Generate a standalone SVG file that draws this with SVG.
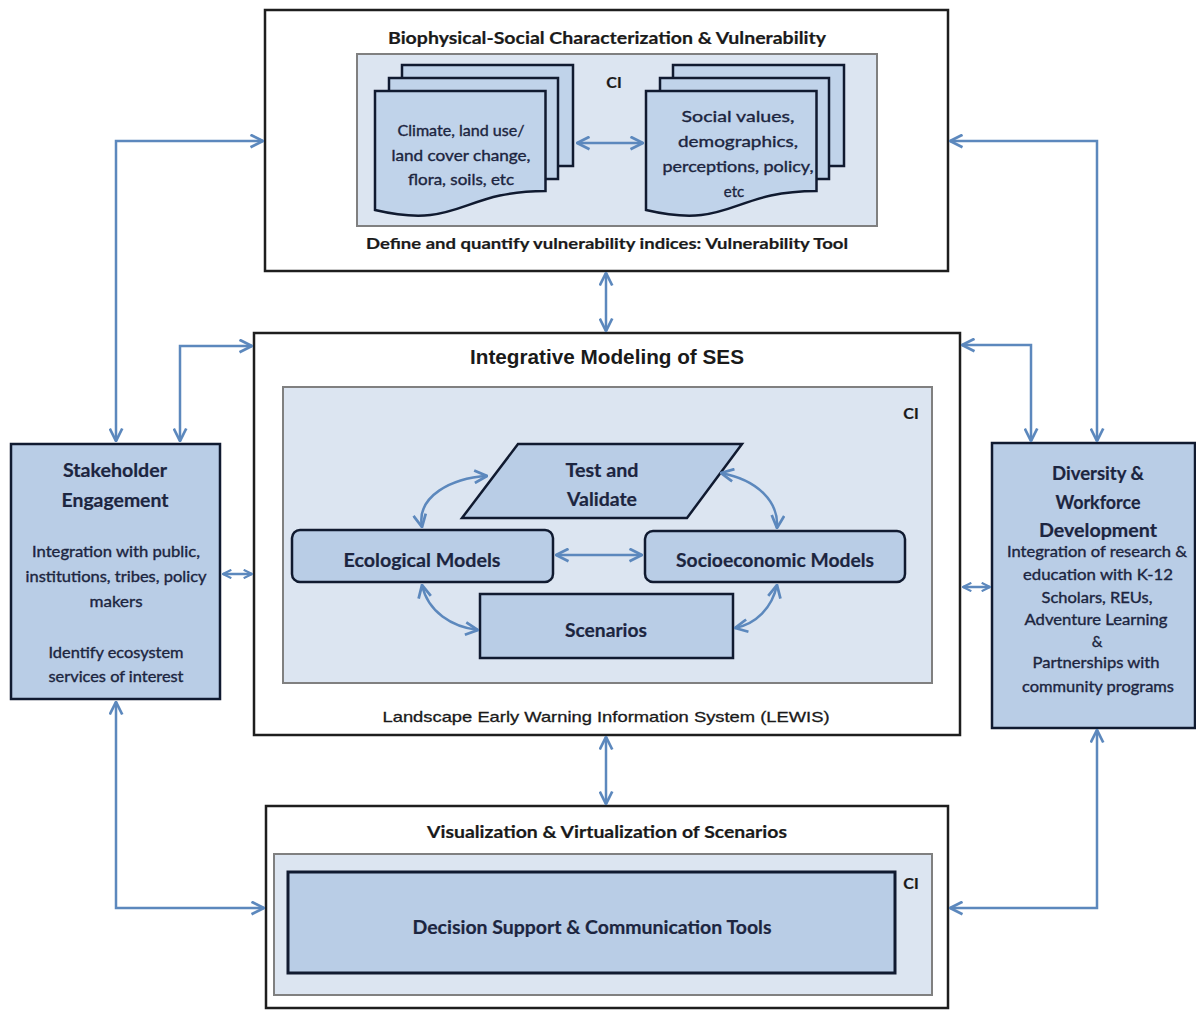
<svg xmlns="http://www.w3.org/2000/svg" width="1196" height="1010" viewBox="0 0 1196 1010">
<style>
.outer{fill:#ffffff;stroke:#1e1e1e;stroke-width:2.5}
.cont{fill:#dce5f1;stroke:#808080;stroke-width:2}
.node{fill:#b9cde6;stroke:#101a30;stroke-width:2.5}
.doc{fill:#c0d3ea;stroke:#101a30;stroke-width:2.5}
.t{font-family:Lato,"Open Sans","Liberation Sans",sans-serif;fill:#1c2540;text-anchor:middle;stroke:#1c2540;stroke-width:0.35}
.b{font-weight:bold;stroke-width:0.2}
.a{font-family:"Liberation Sans",Arial,sans-serif;fill:#1a1a1a;text-anchor:middle}
.k{fill:#1a1a1a;stroke:#1a1a1a}
.c{fill:none;stroke:#5c88bd;stroke-width:2.5}
.cs{fill:none;stroke:#5c88bd;stroke-width:2.5}
</style>
<defs>
<marker id="ah" viewBox="0 0 12 12" refX="11" refY="6" markerWidth="15" markerHeight="15" markerUnits="userSpaceOnUse" orient="auto-start-reverse">
<path d="M1,1 L11,6 L1,11" fill="none" stroke="#5c88bd" stroke-width="2.2"/>
</marker>
<marker id="ahs" viewBox="0 0 12 12" refX="11" refY="6" markerWidth="10" markerHeight="10" markerUnits="userSpaceOnUse" orient="auto-start-reverse">
<path d="M1,1 L11,6 L1,11" fill="none" stroke="#5c88bd" stroke-width="2.6"/>
</marker>
</defs>

<g id="top-box">
<rect class="outer" x="265" y="10" width="683" height="261"/>
<text class="t b k" x="607" y="44" font-size="17" textLength="438" lengthAdjust="spacingAndGlyphs">Biophysical-Social Characterization &amp; Vulnerability</text>
<rect class="cont" x="357" y="54" width="520" height="172"/>
<text class="t b k" x="614" y="88" font-size="16">CI</text>
<text class="t b k" x="607" y="249" font-size="16" textLength="482" lengthAdjust="spacingAndGlyphs">Define and quantify vulnerability indices: Vulnerability Tool</text>
</g>

<g id="biophysical-docs">
<rect class="doc" x="402" y="65" width="171" height="101"/>
<rect class="doc" x="389" y="78" width="169" height="101"/>
<path class="doc" d="M375,210 C460,230 460,191 545.5,191 L545.5,91 L375,91 Z"/>
<text class="t" x="461" y="136" font-size="15" textLength="127" lengthAdjust="spacingAndGlyphs">Climate, land use/</text>
<text class="t" x="461" y="161" font-size="15" textLength="139" lengthAdjust="spacingAndGlyphs">land cover change,</text>
<text class="t" x="461" y="185" font-size="15" textLength="106" lengthAdjust="spacingAndGlyphs">flora, soils, etc</text>
</g>

<g id="social-docs">
<rect class="doc" x="673" y="65" width="171" height="101"/>
<rect class="doc" x="660" y="78" width="169" height="101"/>
<path class="doc" d="M646,210 C731,230 731,191 816.5,191 L816.5,91 L646,91 Z"/>
<text class="t" x="738" y="122" font-size="15" textLength="113" lengthAdjust="spacingAndGlyphs">Social values,</text>
<text class="t" x="738" y="147" font-size="15" textLength="120" lengthAdjust="spacingAndGlyphs">demographics,</text>
<text class="t" x="738" y="172" font-size="15" textLength="151" lengthAdjust="spacingAndGlyphs">perceptions, policy,</text>
<text class="t" x="734" y="197" font-size="15">etc</text>
</g>

<g id="middle-box">
<rect class="outer" x="254" y="333" width="706" height="402"/>
<text class="a b" x="607" y="364" font-size="20" textLength="274" lengthAdjust="spacingAndGlyphs">Integrative Modeling of SES</text>
<rect class="cont" x="283" y="387" width="649" height="296"/>
<text class="t b k" x="911" y="419" font-size="16">CI</text>
<text class="a" x="606" y="722" font-size="15" textLength="447" lengthAdjust="spacingAndGlyphs" style="stroke:#1a1a1a;stroke-width:0.3">Landscape Early Warning Information System (LEWIS)</text>
</g>

<g id="test-validate">
<polygon class="node" points="518,444 742,444 687,518 462,518"/>
<text class="t b" x="602" y="477" font-size="19" textLength="73" lengthAdjust="spacingAndGlyphs">Test and</text>
<text class="t b" x="602" y="506" font-size="19" textLength="70" lengthAdjust="spacingAndGlyphs">Validate</text>
</g>

<g id="ecological-models">
<rect class="node" x="292" y="530" width="261" height="52" rx="8"/>
<text class="t b" x="422" y="567" font-size="19" textLength="157" lengthAdjust="spacingAndGlyphs">Ecological Models</text>
</g>

<g id="socioeconomic-models">
<rect class="node" x="645" y="531" width="260" height="51" rx="8"/>
<text class="t b" x="775" y="567" font-size="19" textLength="198" lengthAdjust="spacingAndGlyphs">Socioeconomic Models</text>
</g>

<g id="scenarios">
<rect class="node" x="480" y="594" width="253" height="64"/>
<text class="t b" x="606" y="637" font-size="19" textLength="82" lengthAdjust="spacingAndGlyphs">Scenarios</text>
</g>

<g id="stakeholder-engagement">
<rect class="node" x="11" y="444" width="209" height="255"/>
<text class="t b" x="115" y="477" font-size="19" textLength="104" lengthAdjust="spacingAndGlyphs">Stakeholder</text>
<text class="t b" x="115" y="507" font-size="19" textLength="107" lengthAdjust="spacingAndGlyphs">Engagement</text>
<text class="t" x="116" y="557" font-size="15" textLength="168" lengthAdjust="spacingAndGlyphs">Integration with public,</text>
<text class="t" x="116" y="582" font-size="15" textLength="181" lengthAdjust="spacingAndGlyphs">institutions, tribes, policy</text>
<text class="t" x="116" y="607" font-size="15" textLength="53" lengthAdjust="spacingAndGlyphs">makers</text>
<text class="t" x="116" y="658" font-size="15" textLength="135" lengthAdjust="spacingAndGlyphs">Identify ecosystem</text>
<text class="t" x="116" y="682" font-size="15" textLength="135" lengthAdjust="spacingAndGlyphs">services of interest</text>
</g>

<g id="diversity-workforce">
<rect class="node" x="992" y="443" width="203" height="285"/>
<text class="t b" x="1098" y="480" font-size="19" textLength="92" lengthAdjust="spacingAndGlyphs">Diversity &amp;</text>
<text class="t b" x="1098" y="509" font-size="19" textLength="85" lengthAdjust="spacingAndGlyphs">Workforce</text>
<text class="t b" x="1098" y="537" font-size="19" textLength="118" lengthAdjust="spacingAndGlyphs">Development</text>
<text class="t" x="1097" y="557" font-size="15" textLength="180" lengthAdjust="spacingAndGlyphs">Integration of research &amp;</text>
<text class="t" x="1098" y="580" font-size="15" textLength="150" lengthAdjust="spacingAndGlyphs">education with K-12</text>
<text class="t" x="1097" y="603" font-size="15" textLength="111" lengthAdjust="spacingAndGlyphs">Scholars, REUs,</text>
<text class="t" x="1096" y="625" font-size="15" textLength="143" lengthAdjust="spacingAndGlyphs">Adventure Learning</text>
<text class="t" x="1097" y="647" font-size="15">&amp;</text>
<text class="t" x="1096" y="668" font-size="15" textLength="127" lengthAdjust="spacingAndGlyphs">Partnerships with</text>
<text class="t" x="1098" y="692" font-size="15" textLength="152" lengthAdjust="spacingAndGlyphs">community programs</text>
</g>

<g id="bottom-box">
<rect class="outer" x="266" y="806" width="682" height="202"/>
<text class="t b k" x="607" y="838" font-size="17" textLength="360" lengthAdjust="spacingAndGlyphs">Visualization &amp; Virtualization of Scenarios</text>
<rect class="cont" x="274" y="854" width="658" height="141"/>
<text class="t b k" x="911" y="889" font-size="16">CI</text>
</g>

<g id="decision-support">
<rect class="node" x="288" y="872" width="607" height="101" style="stroke-width:3"/>
<text class="t b" x="592" y="934" font-size="19" textLength="359" lengthAdjust="spacingAndGlyphs">Decision Support &amp; Communication Tools</text>
</g>

<g id="connectors">
<path class="c" d="M116,441 V141 H263" marker-start="url(#ah)" marker-end="url(#ah)"/>
<path class="c" d="M180,441 V346 H252" marker-start="url(#ah)" marker-end="url(#ah)"/>
<path class="c" d="M1097,441 V141 H950" marker-start="url(#ah)" marker-end="url(#ah)"/>
<path class="c" d="M1031,441 V345 H962" marker-start="url(#ah)" marker-end="url(#ah)"/>
<path class="c" d="M606,273 V331" marker-start="url(#ah)" marker-end="url(#ah)"/>
<path class="c" d="M606,737 V804" marker-start="url(#ah)" marker-end="url(#ah)"/>
<path class="c" d="M116,702 V908 H264" marker-start="url(#ah)" marker-end="url(#ah)"/>
<path class="c" d="M1097,730 V908 H950" marker-start="url(#ah)" marker-end="url(#ah)"/>
<path class="cs" d="M223,574 H252" marker-start="url(#ahs)" marker-end="url(#ahs)"/>
<path class="cs" d="M963,587 H990" marker-start="url(#ahs)" marker-end="url(#ahs)"/>
<path class="c" d="M577,143 H643" marker-start="url(#ah)" marker-end="url(#ah)"/>
<path class="c" d="M556,555 H642" marker-start="url(#ah)" marker-end="url(#ah)"/>
<path class="c" d="M422,527 C416,496 452,478 487,476" marker-start="url(#ah)" marker-end="url(#ah)"/>
<path class="c" d="M422,585 C428,612 452,627 478,630" marker-start="url(#ah)" marker-end="url(#ah)"/>
<path class="c" d="M721,473 C758,480 779,502 777,528" marker-start="url(#ah)" marker-end="url(#ah)"/>
<path class="c" d="M777,585 C772,608 756,624 735,628" marker-start="url(#ah)" marker-end="url(#ah)"/>
</g>
</svg>
